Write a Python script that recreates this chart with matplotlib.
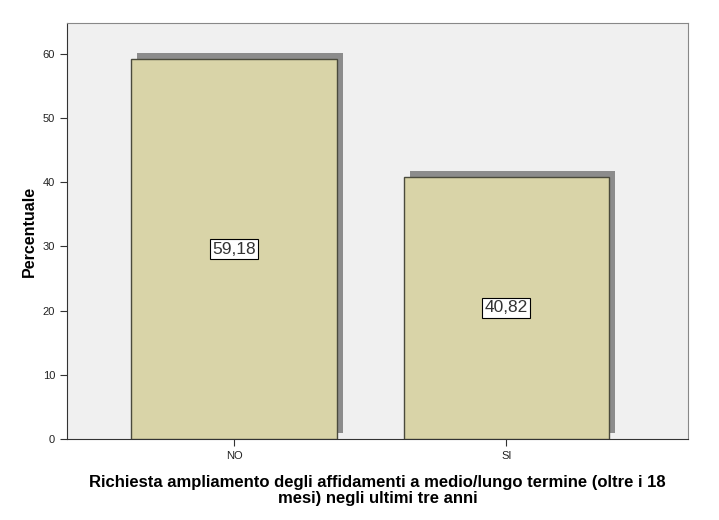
import matplotlib
matplotlib.use("Agg")
import matplotlib.pyplot as plt
from matplotlib.transforms import ScaledTranslation

categories = ["NO", "SI"]
values = [59.18, 40.82]
labels = ["59,18", "40,82"]
yticks = [0, 10, 20, 30, 40, 50, 60]

plt.rcParams['font.family'] = ['Liberation Sans', 'DejaVu Sans']

fig = plt.figure(figsize=(7.19, 5.20), dpi=100)
ax = fig.add_axes([0.0932, 0.1558, 0.864, 0.800])
ax.set_facecolor("#f0f0f0")

x = list(range(len(categories)))
width = 0.754
shadow_tr = ax.transData + ScaledTranslation(6/100, 6/100, fig.dpi_scale_trans)
ax.bar(x, values, width=width, color="#8c8c8c", edgecolor="none",
       transform=shadow_tr, zorder=2)
ax.bar(x, values, width=width, color="#d9d4a8", edgecolor="#4a4a3c",
       linewidth=1.0, zorder=3)

for xi, v, lab in zip(x, values, labels):
    ax.text(xi, v / 2, lab, ha="center", va="center", fontsize=12.5, zorder=5,
            color="#333333",
            bbox=dict(boxstyle="square,pad=0.12", facecolor="white",
                      edgecolor="black", linewidth=0.8))

ax.set_xlim(-0.614, 1.669)
ax.set_ylim(0, 64.8)
ax.set_yticks(yticks)
ax.set_xticks(x)
ax.set_xticklabels(categories)
ax.tick_params(axis="both", labelsize=8, length=5, color="#333333",
               labelcolor="#222222", direction="out")

for s in ["top", "right"]:
    ax.spines[s].set_color("#888888")
for s in ["left", "bottom"]:
    ax.spines[s].set_color("#333333")

ax.set_ylabel("Percentuale", fontsize=11.5, fontweight="bold", labelpad=4)
ax.set_xlabel("Richiesta ampliamento degli affidamenti a medio/lungo termine (oltre i 18\nmesi) negli ultimi tre anni",
              fontsize=12, fontweight="bold", labelpad=10, linespacing=1.12)

fig.savefig("out.png", dpi=100)
